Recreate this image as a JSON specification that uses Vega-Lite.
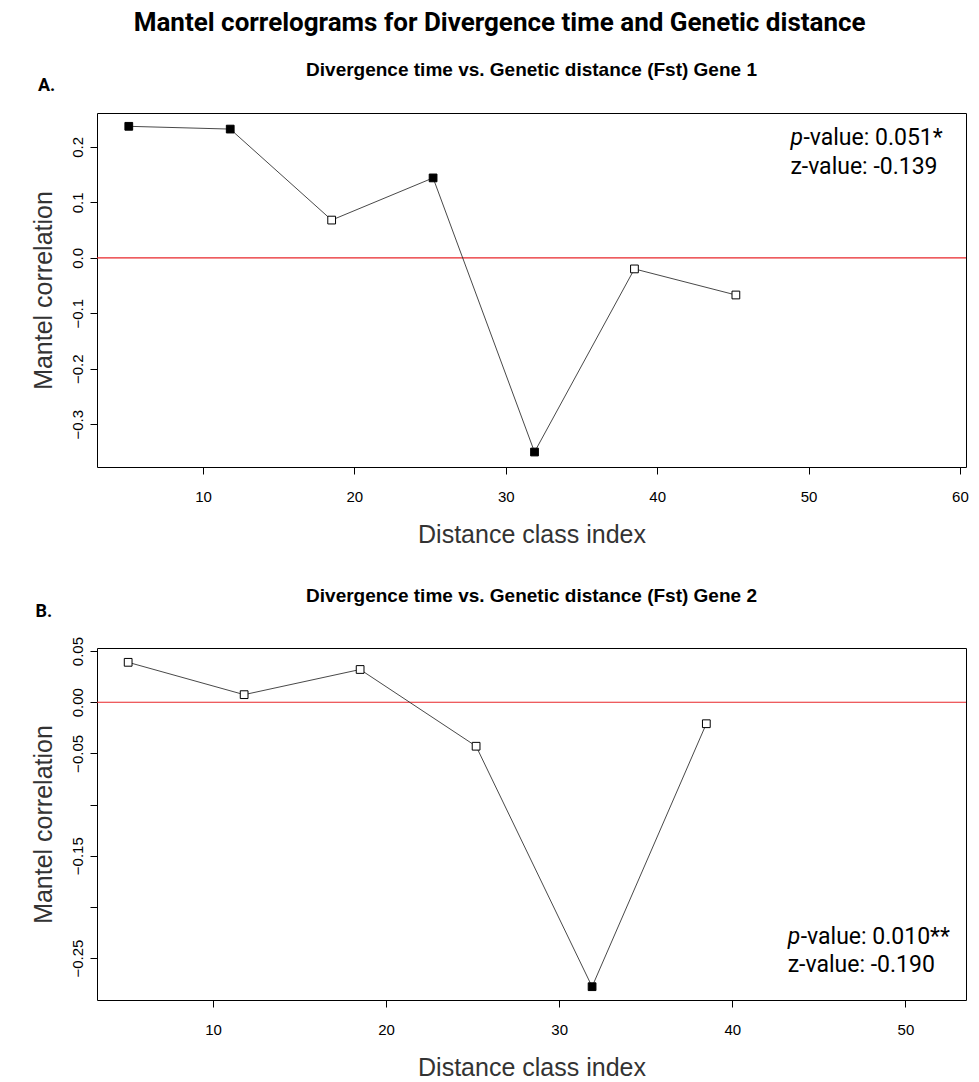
{
"$schema":"https://vega.github.io/schema/vega-lite/v6.json",
"background":"white",
"padding":{"left":30,"top":10,"right":10,"bottom":2},
"title":{"text":"Mantel correlograms for Divergence time and Genetic distance","font":"Roboto","fontSize":26,"fontWeight":"bold","color":"black","offset":24,"anchor":"middle"},
"config":{"view":{"stroke":"black","strokeWidth":1},"axis":{"grid":false,"domain":false,"tickColor":"black","tickSize":7,"labelFont":"Liberation Sans","labelFontSize":15,"labelColor":"black","titleFont":"Liberation Sans","titleFontSize":25,"titleFontWeight":"normal","titleColor":"#333"},"concat":{"spacing":38}},
"datasets":{
"a":[{"x":5.1,"y":0.237,"sig":true},{"x":11.8,"y":0.232,"sig":true},{"x":18.5,"y":0.068,"sig":false},{"x":25.2,"y":0.144,"sig":true},{"x":31.9,"y":-0.35,"sig":true},{"x":38.5,"y":-0.02,"sig":false},{"x":45.2,"y":-0.067,"sig":false}],
"b":[{"x":5.1,"y":0.039,"sig":false},{"x":11.8,"y":0.0074,"sig":false},{"x":18.5,"y":0.032,"sig":false},{"x":25.2,"y":-0.043,"sig":false},{"x":31.9,"y":-0.278,"sig":true},{"x":38.5,"y":-0.021,"sig":false}]
},
"vconcat":[
{"width":869,"height":354,
"title":{"text":"Divergence time vs. Genetic distance (Fst) Gene 1","font":"Liberation Sans","fontSize":19,"fontWeight":"bold","color":"black","offset":-3,"anchor":"middle","frame":"group"},
"layer":[
{"data":{"values":[{"y":0}]},"mark":{"type":"rule","color":"#e8262a","strokeWidth":1.2},"encoding":{"y":{"field":"y","type":"quantitative"}}},
{"data":{"name":"a"},"mark":{"type":"line","color":"#333","strokeWidth":0.9},"encoding":{
"x":{"field":"x","type":"quantitative","scale":{"domain":[3.0,60.4],"nice":false,"zero":false},"axis":{"values":[10,20,30,40,50,60],"title":"Distance class index","labelPadding":15,"titlePadding":18}},
"y":{"field":"y","type":"quantitative","scale":{"domain":[-0.377,0.261],"nice":false,"zero":false},"axis":{"values":[-0.3,-0.2,-0.1,0,0.1,0.2],"format":".1f","labelAngle":-90,"labelAlign":"center","labelBaseline":"bottom","labelPadding":5,"title":"Mantel correlation","titlePadding":14}}}},
{"data":{"name":"a"},"mark":{"type":"point","shape":"square","size":60,"stroke":"black","strokeWidth":1,"filled":true,"opacity":1},"encoding":{"x":{"field":"x","type":"quantitative"},"y":{"field":"y","type":"quantitative"},"fill":{"field":"sig","type":"nominal","scale":{"domain":[true,false],"range":["black","white"]},"legend":null}}},
{"data":{"values":[{"x":48.8,"y":0.216,"t":"p"}]},"mark":{"type":"text","align":"left","fontStyle":"italic","font":"Roboto","fontSize":23},"encoding":{"x":{"field":"x","type":"quantitative"},"y":{"field":"y","type":"quantitative"},"text":{"field":"t"}}},
{"data":{"values":[{"x":48.8,"y":0.216,"t":"-value: 0.051*"}]},"mark":{"type":"text","align":"left","font":"Roboto","fontSize":23,"dx":13},"encoding":{"x":{"field":"x","type":"quantitative"},"y":{"field":"y","type":"quantitative"},"text":{"field":"t"}}},
{"data":{"values":[{"x":48.8,"y":0.164,"t":"z-value: -0.139"}]},"mark":{"type":"text","align":"left","font":"Roboto","fontSize":23},"encoding":{"x":{"field":"x","type":"quantitative"},"y":{"field":"y","type":"quantitative"},"text":{"field":"t"}}},
{"data":{"values":[{"x":-0.9,"y":0.31,"t":"A."}]},"mark":{"type":"text","align":"left","font":"Roboto","fontWeight":"bold","fontSize":18,"clip":false},"encoding":{"x":{"field":"x","type":"quantitative"},"y":{"field":"y","type":"quantitative"},"text":{"field":"t"}}}
]},
{"width":869,"height":352,
"title":{"text":"Divergence time vs. Genetic distance (Fst) Gene 2","font":"Liberation Sans","fontSize":19,"fontWeight":"bold","color":"black","offset":-3,"anchor":"middle","frame":"group"},
"layer":[
{"data":{"values":[{"y":0}]},"mark":{"type":"rule","color":"#e8262a","strokeWidth":1.2},"encoding":{"y":{"field":"y","type":"quantitative"}}},
{"data":{"name":"b"},"mark":{"type":"line","color":"#333","strokeWidth":0.9},"encoding":{
"x":{"field":"x","type":"quantitative","scale":{"domain":[3.3,53.5],"nice":false,"zero":false},"axis":{"values":[10,20,30,40,50],"title":"Distance class index","labelPadding":15,"titlePadding":18}},
"y":{"field":"y","type":"quantitative","scale":{"domain":[-0.291,0.053],"nice":false,"zero":false},"axis":{"values":[-0.25,-0.2,-0.15,-0.1,-0.05,0,0.05],"labelExpr":"(abs(datum.value+0.1)<0.001 || abs(datum.value+0.2)<0.001) ? '' : format(datum.value,'.2f')","labelAngle":-90,"labelAlign":"center","labelBaseline":"bottom","labelPadding":5,"title":"Mantel correlation","titlePadding":14}}}},
{"data":{"name":"b"},"mark":{"type":"point","shape":"square","size":60,"stroke":"black","strokeWidth":1,"filled":true,"opacity":1},"encoding":{"x":{"field":"x","type":"quantitative"},"y":{"field":"y","type":"quantitative"},"fill":{"field":"sig","type":"nominal","scale":{"domain":[true,false],"range":["black","white"]},"legend":null}}},
{"data":{"values":[{"x":43.2,"y":-0.229,"t":"p"}]},"mark":{"type":"text","align":"left","fontStyle":"italic","font":"Roboto","fontSize":23},"encoding":{"x":{"field":"x","type":"quantitative"},"y":{"field":"y","type":"quantitative"},"text":{"field":"t"}}},
{"data":{"values":[{"x":43.2,"y":-0.229,"t":"-value: 0.010**"}]},"mark":{"type":"text","align":"left","font":"Roboto","fontSize":23,"dx":13},"encoding":{"x":{"field":"x","type":"quantitative"},"y":{"field":"y","type":"quantitative"},"text":{"field":"t"}}},
{"data":{"values":[{"x":43.2,"y":-0.257,"t":"z-value: -0.190"}]},"mark":{"type":"text","align":"left","font":"Roboto","fontSize":23},"encoding":{"x":{"field":"x","type":"quantitative"},"y":{"field":"y","type":"quantitative"},"text":{"field":"t"}}},
{"data":{"values":[{"x":-0.25,"y":0.088,"t":"B."}]},"mark":{"type":"text","align":"left","font":"Roboto","fontWeight":"bold","fontSize":18,"clip":false},"encoding":{"x":{"field":"x","type":"quantitative"},"y":{"field":"y","type":"quantitative"},"text":{"field":"t"}}}
]}
]}
